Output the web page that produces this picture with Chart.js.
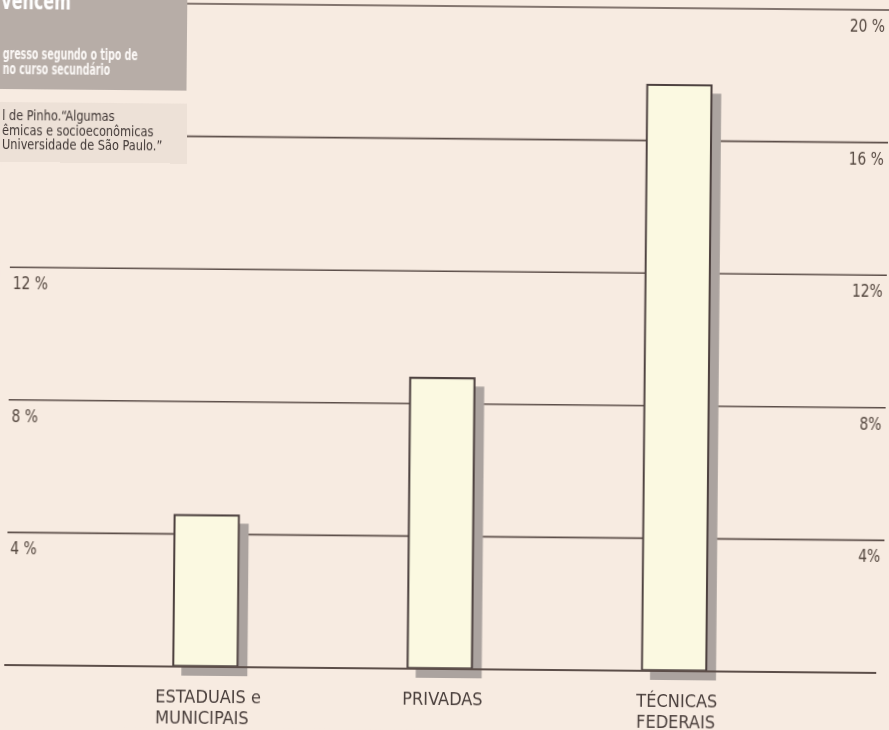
<!DOCTYPE html>
<html>
<head>
<meta charset="utf-8">
<script src="https://cdn.jsdelivr.net/npm/chart.js@4/dist/chart.umd.min.js"></script>
<style>
  html, body { margin: 0; padding: 0; background: #f7ebe1; overflow: hidden; }
  #wrap {
    position: relative; width: 889px; height: 730px;
    transform: rotate(0.52deg); transform-origin: 444px 365px;
    background: #f7ebe1;
  }
  #chart { position: absolute; left: 0; top: 0; }
  .box { position: absolute; }
  #titleBox { left: -20px; top: -20px; width: 204px; height: 113px; background: #b7ada7; }
  #sourceBox { left: -20px; top: 106px; width: 205px; height: 60px; background: #ede1d7; }
  .t {
    position: absolute; white-space: nowrap; transform-origin: left top;
    font-family: "DejaVu Sans Condensed", "Liberation Sans Narrow", sans-serif;
  }
  #title { left: -2px; top: -7px; font-size: 24px; line-height: 24px; font-weight: bold; color: #fff; transform: scaleX(0.74); }
  #subtitle { left: 0; top: 51px; font-size: 15px; line-height: 14.5px; font-weight: bold; color: #fbf8f6; transform: scaleX(0.7); }
  #source { left: 0; top: 112px; font-size: 14.5px; line-height: 14.5px; color: #3f3634; transform: scaleX(0.87); }
</style>
</head>
<body>
<div id="wrap">
  <canvas id="chart" width="889" height="730"></canvas>
  <div class="box" id="titleBox"></div>
  <div class="box" id="sourceBox"></div>
  <div class="t" id="title">vencem</div>
  <div class="t" id="subtitle">gresso segundo o tipo de<br>no curso secundário</div>
  <div class="t" id="source">l de Pinho.“Algumas<br>êmicas e socioeconômicas<br>Universidade de São Paulo.”</div>
</div>
<script>
const categories = [['ESTADUAIS e', 'MUNICIPAIS'], ['PRIVADAS'], ['TÉCNICAS', 'FEDERAIS']];
const values = [4.6, 8.8, 17.7];
const gridTicks = [4, 8, 12, 16, 20];
const leftTicks = [4, 8, 12];
const leftTickLabels = ['4 %', '8 %', '12 %'];
const rightTicks = [4, 8, 12, 16, 20];
const rightTickLabels = ['4%', '8%', '12%', '16 %', '20 %'];

const FONT = '"DejaVu Sans Condensed", "Liberation Sans Narrow", sans-serif';
const LINE = '#5c4e49';

// narrow text: canvas has no condensed face here, so squeeze it
function narrowText(ctx, text, x, y, sx) {
  ctx.save();
  ctx.translate(x, y);
  ctx.scale(sx, 1);
  ctx.fillText(text, 0, 0);
  ctx.restore();
}

const decor = {
  id: 'decor',
  beforeDatasetsDraw(chart) {
    const { ctx, scales: { y } } = chart;
    ctx.save();
    ctx.strokeStyle = LINE;
    ctx.lineWidth = 1.6;
    gridTicks.forEach((v) => {
      const py = y.getPixelForValue(v);
      ctx.beginPath();
      ctx.moveTo(9, py);
      ctx.lineTo(886, py);
      ctx.stroke();
    });
    // bar shadows
    ctx.fillStyle = '#aba39f';
    chart.getDatasetMeta(0).data.forEach((bar) => {
      const w = bar.width;
      ctx.fillRect(bar.x - w / 2 + 9, bar.y + 9, w, bar.base - bar.y);
    });
    ctx.restore();
  },
  afterDatasetsDraw(chart) {
    const { ctx, scales: { x, y } } = chart;
    ctx.save();
    const base = y.getPixelForValue(0);
    ctx.strokeStyle = LINE;
    ctx.lineWidth = 2.2;
    ctx.beginPath();
    ctx.moveTo(7, base);
    ctx.lineTo(879, base);
    ctx.stroke();

    ctx.fillStyle = '#54473f';
    ctx.font = '17.5px ' + FONT;
    ctx.textBaseline = 'alphabetic';
    ctx.textAlign = 'left';
    leftTicks.forEach((v, i) => {
      narrowText(ctx, leftTickLabels[i], 12, y.getPixelForValue(v) + 22, 0.88);
    });
    ctx.textAlign = 'right';
    rightTicks.forEach((v, i) => {
      narrowText(ctx, rightTickLabels[i], 882, y.getPixelForValue(v) + 22, 0.88);
    });

    // category labels, block centred under each bar, lines left aligned
    ctx.fillStyle = '#4a3f3c';
    ctx.font = '18px ' + FONT;
    ctx.textAlign = 'left';
    categories.forEach((lines, i) => {
      const cx = x.getPixelForValue(i);
      const w = Math.max(...lines.map((l) => ctx.measureText(l).width));
      lines.forEach((l, j) => {
        ctx.fillText(l, cx - w / 2 + 3, base + 36 + j * 21);
      });
    });
    ctx.restore();
  },
};

const ctx = document.getElementById('chart');
const chart = new Chart(ctx, {
  type: 'bar',
  data: {
    labels: categories.map((c) => c.join(' ')),
    datasets: [{
      data: values,
      backgroundColor: '#fbf9e1',
      borderColor: '#4e4240',
      borderWidth: 2.2,
      borderSkipped: false,
      barThickness: 66,
    }],
  },
  options: {
    responsive: false,
    animation: false,
    layout: { padding: { left: 91, right: 95, top: 6, bottom: 61 } },
    plugins: { legend: { display: false }, tooltip: { enabled: false } },
    scales: {
      x: { display: false },
      y: { display: false, min: 0, max: 20 },
    },
  },
  plugins: [decor],
});
</script>
</body>
</html>
